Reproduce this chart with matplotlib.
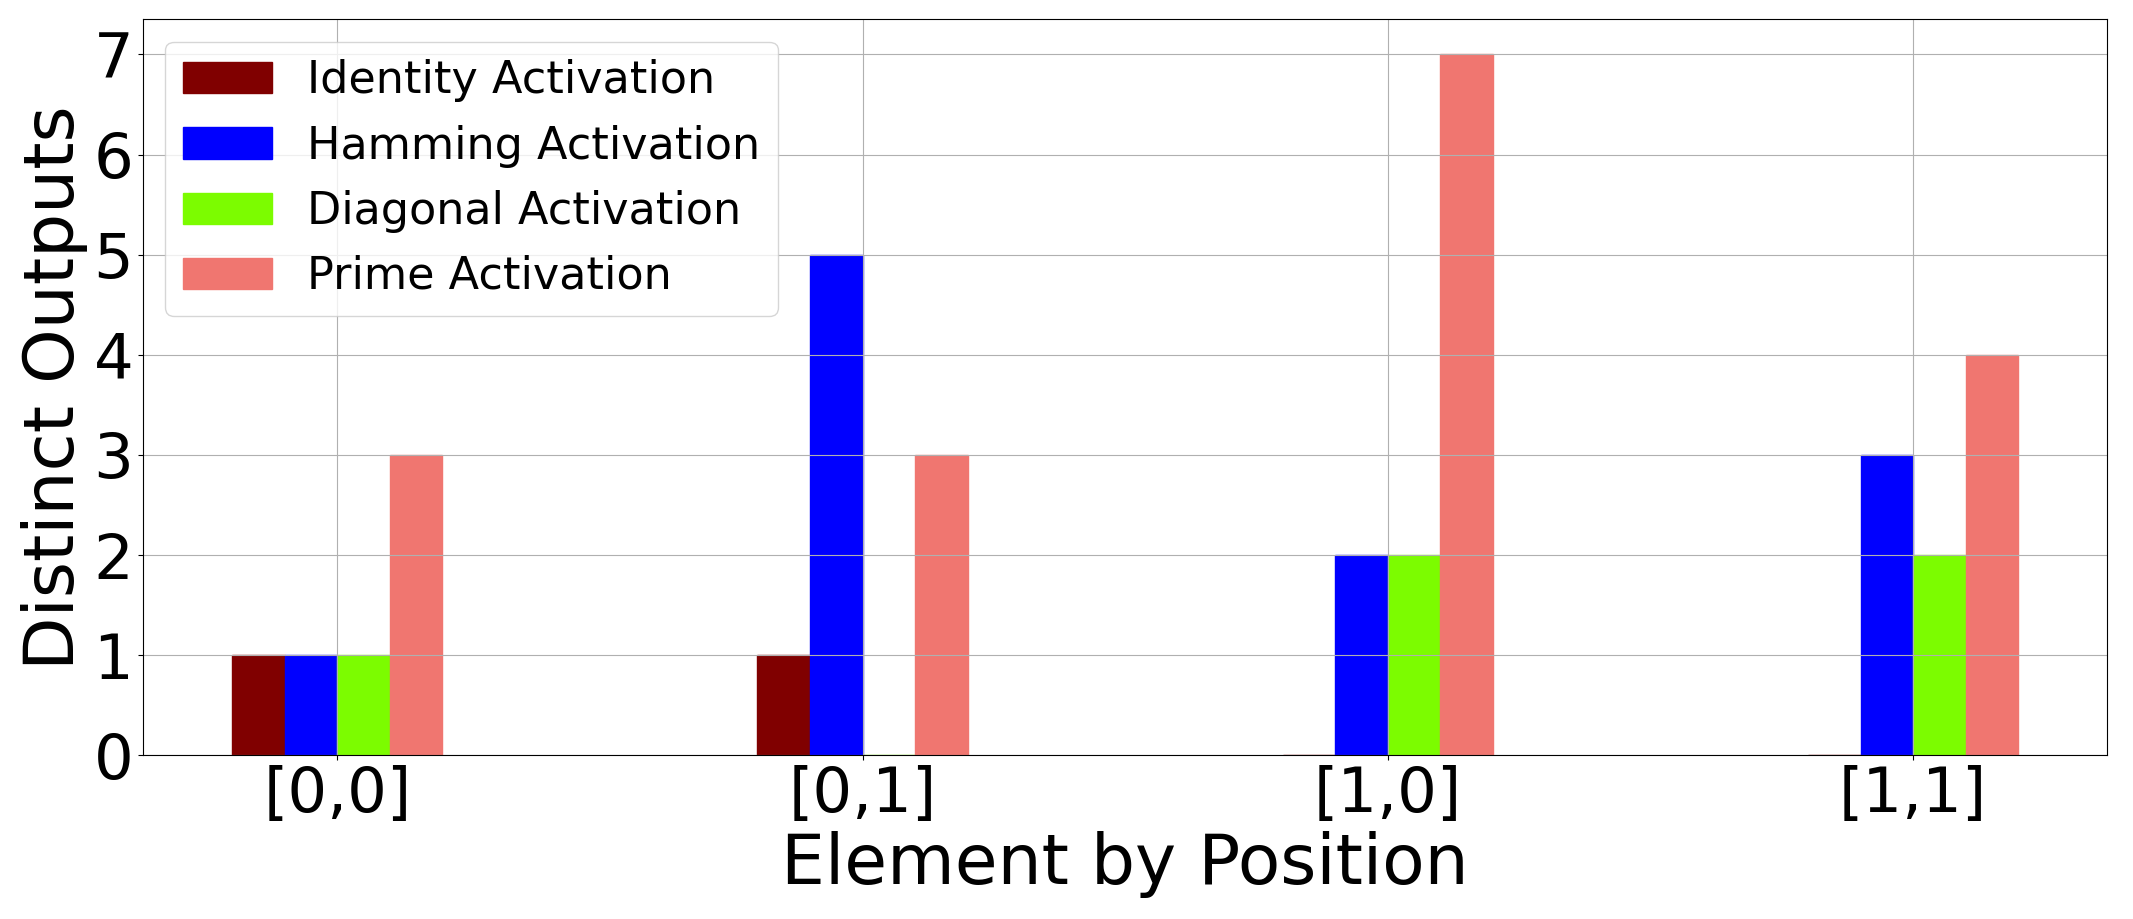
import numpy as np
import matplotlib
matplotlib.use("Agg")
import matplotlib.pyplot as plt

positions = ["[0,0]", "[0,1]", "[1,0]", "[1,1]"]
identity = [1, 1, 0, 0]
hamming = [1, 5, 2, 3]
diagonal = [1, 0, 2, 2]
prime = [3, 3, 7, 4]

series = [
    ("Identity Activation", identity, "#800000"),
    ("Hamming Activation", hamming, "#0000ff"),
    ("Diagonal Activation", diagonal, "#7cfc00"),
    ("Prime Activation", prime, "#f07670"),
]

fig, ax = plt.subplots(figsize=(21.33, 9.19), dpi=100)
x = np.arange(len(positions))
width = 0.1
for i, (label, vals, color) in enumerate(series):
    offset = (i - 1.5) * width
    ax.bar(x + offset, vals, width, label=label, color=color,
           edgecolor=color, linewidth=1)

ax.set_xticks(x)
ax.set_xticklabels(positions)
ax.set_yticks(range(8))
ax.tick_params(axis='both', labelsize=45)
ax.set_xlabel("Element by Position", fontsize=50)
ax.set_ylabel("Distinct Outputs", fontsize=50)
ax.grid(True)
ax.legend(loc="upper left", fontsize=32)

fig.subplots_adjust(left=0.067, right=0.988, top=0.979, bottom=0.178)
fig.savefig("out.png")
